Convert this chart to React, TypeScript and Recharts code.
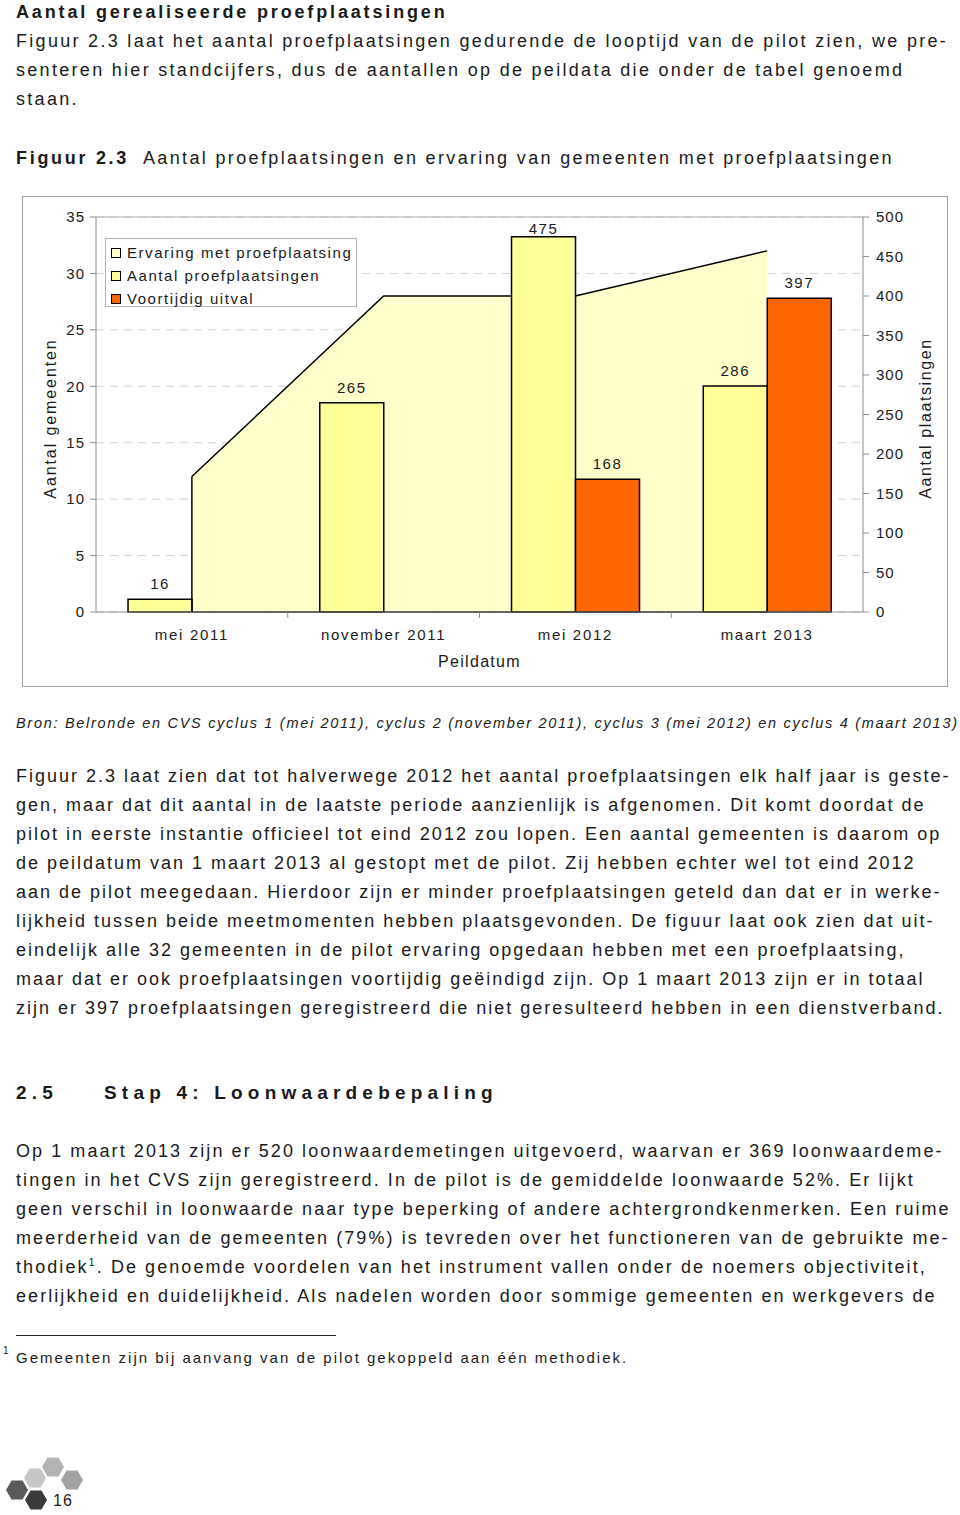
import React from 'react'
import {
  ComposedChart,
  Area,
  Bar,
  XAxis,
  YAxis,
  CartesianGrid,
  Legend,
  LabelList,
  ReferenceLine,
  Label
} from 'recharts'

// chart data
const peildata = ['mei 2011', 'november 2011', 'mei 2012', 'maart 2013']
const ervaring = [12, 28, 28, 32]
const proefplaatsingen = [16, 265, 475, 286]
const uitval = [null, null, 168, 397]

const leftTicks = [0, 5, 10, 15, 20, 25, 30, 35]
const rightTicks = [0, 50, 100, 150, 200, 250, 300, 350, 400, 450, 500]

const seriesNames = ['Ervaring met proefplaatsing', 'Aantal proefplaatsingen', 'Voortijdig uitval']
const seriesColors = ['#FFFFCC', '#FFFF99', '#FF6600']

const data = peildata.map((p, i) => ({
  peildatum: p,
  ervaring: ervaring[i],
  aantal: proefplaatsingen[i],
  uitval: uitval[i]
}))

const FONT = '"Liberation Sans", Arial, sans-serif'
const INK = '#1a1a1a'
const AXIS = '#8c8c8c'
const PLOT_TOP = 21

function TextRow({ y, x = 16, size = 18, ls = 2, bold = false, italic = false, children }: any) {
  return (
    <div
      style={{
        position: 'absolute',
        left: x,
        top: y - 15,
        height: 30,
        lineHeight: '30px',
        fontSize: size,
        letterSpacing: ls,
        fontWeight: bold ? 700 : 400,
        fontStyle: italic ? 'italic' : 'normal',
        whiteSpace: 'pre'
      }}
    >
      {children}
    </div>
  )
}

function PeilTick({ x, y, payload }: any) {
  const edge = payload.coordinate - payload.offset
  return (
    <g>
      {payload.index > 0 && <line x1={edge} x2={edge} y1={y} y2={y + 6} stroke={AXIS} />}
      <text x={x} y={y + 28} textAnchor="middle" fontSize={15} letterSpacing={1.7} fill={INK}>
        {payload.value}
      </text>
    </g>
  )
}

// value label above a bar, kept inside the plot like Excel does
function BarValue({ x, y, width, value }: any) {
  if (value == null) return null
  return (
    <text
      x={x + width / 2}
      y={Math.max(y - 10, PLOT_TOP + 17)}
      textAnchor="middle"
      fontSize={15}
      letterSpacing={1.5}
      fill={INK}
    >
      {value}
    </text>
  )
}

function SideTitle({ viewBox, text, shift, ls }: any) {
  const cx = viewBox.x + shift
  const cy = viewBox.y + viewBox.height / 2 + 4
  return (
    <text
      x={cx}
      y={cy}
      transform={`rotate(-90 ${cx} ${cy})`}
      textAnchor="middle"
      dominantBaseline="central"
      fontSize={16}
      letterSpacing={ls}
      fill={INK}
    >
      {text}
    </text>
  )
}

function LegendBox() {
  return (
    <div
      style={{
        width: 252,
        height: 69,
        border: '1px solid #b4b4b4',
        background: '#fff',
        boxSizing: 'border-box',
        padding: '2px 0 0 5px'
      }}
    >
      {seriesNames.map((n, i) => (
        <div key={n} style={{ display: 'flex', alignItems: 'center', height: 23, fontSize: 15, letterSpacing: 1.55, color: INK }}>
          <span
            style={{
              width: 8,
              height: 8,
              border: '1.5px solid #000',
              background: seriesColors[i],
              marginRight: 6,
              flex: 'none'
            }}
          />
          {n}
        </div>
      ))}
    </div>
  )
}

function Chart() {
  return (
    <ComposedChart
      width={926}
      height={491}
      data={data}
      margin={{ top: PLOT_TOP, right: 0, bottom: 0, left: 0 }}
      barCategoryGap="16.7%"
      barGap={0}
    >
      <CartesianGrid yAxisId="left" vertical={false} stroke="#d2d2d2" strokeDasharray="8 6" />
      <XAxis
        dataKey="peildatum"
        height={75}
        tickSize={0}
        tickMargin={0}
        tick={<PeilTick />}
        axisLine={{ stroke: AXIS }}
        interval={0}
      >
        <Label value="Peildatum" position="insideBottom" offset={20} fontSize={16} letterSpacing={1.3} fill={INK} />
      </XAxis>
      <YAxis
        yAxisId="left"
        width={74}
        domain={[0, 35]}
        ticks={leftTicks}
        tickSize={6}
        tickMargin={5}
        axisLine={{ stroke: AXIS }}
        tickLine={{ stroke: AXIS }}
        tick={{ fontSize: 15, fill: INK, letterSpacing: 1 }}
        label={<SideTitle text="Aantal gemeenten" shift={28} ls={1.9} />}
      />
      <YAxis
        yAxisId="right"
        orientation="right"
        width={85}
        domain={[0, 500]}
        ticks={rightTicks}
        tickSize={6}
        tickMargin={7}
        axisLine={{ stroke: AXIS }}
        tickLine={{ stroke: AXIS }}
        tick={{ fontSize: 15, fill: INK, letterSpacing: 1 }}
        label={<SideTitle text="Aantal plaatsingen" shift={62} ls={1.6} />}
      />
      <ReferenceLine yAxisId="left" y={leftTicks[leftTicks.length - 1]} stroke="#a8a8a8" />
      <Legend
        layout="vertical"
        align="center"
        verticalAlign="middle"
        wrapperStyle={{ left: 83, top: 42, width: 252, height: 69 }}
        content={<LegendBox />}
      />
      <Area
        yAxisId="left"
        type="linear"
        dataKey="ervaring"
        name={seriesNames[0]}
        fill={seriesColors[0]}
        fillOpacity={1}
        stroke="#000"
        strokeWidth={1.5}
        dot={false}
        activeDot={false}
        isAnimationActive={false}
      />
      <ReferenceLine
        yAxisId="left"
        segment={[
          { x: peildata[0], y: 0 },
          { x: peildata[0], y: ervaring[0] }
        ]}
        stroke="#000"
        strokeWidth={1.5}
      />
      <ReferenceLine
        yAxisId="left"
        segment={[
          { x: peildata[0], y: 0 },
          { x: peildata[peildata.length - 1], y: 0 }
        ]}
        stroke="#000"
        strokeWidth={1.5}
      />
      <Bar
        yAxisId="right"
        dataKey="aantal"
        name={seriesNames[1]}
        fill={seriesColors[1]}
        stroke="#000"
        strokeWidth={1.5}
        isAnimationActive={false}
      >
        <LabelList dataKey="aantal" content={<BarValue />} />
      </Bar>
      <Bar
        yAxisId="right"
        dataKey="uitval"
        name={seriesNames[2]}
        fill={seriesColors[2]}
        stroke="#000"
        strokeWidth={1.5}
        isAnimationActive={false}
      >
        <LabelList dataKey="uitval" content={<BarValue />} />
      </Bar>
    </ComposedChart>
  )
}

function Logo() {
  const hexes = [
    { cx: 53, cy: 17, fill: '#b3b3b3' },
    { cx: 72, cy: 30, fill: '#a2a2a2' },
    { cx: 35, cy: 28, fill: '#c6c6c6' },
    { cx: 17, cy: 40, fill: '#5a5a5a' },
    { cx: 36, cy: 50, fill: '#3a3a3a' }
  ]
  const pts = (cx: number, cy: number) =>
    [
      [cx - 11, cy],
      [cx - 5.5, cy - 9.5],
      [cx + 5.5, cy - 9.5],
      [cx + 11, cy],
      [cx + 5.5, cy + 9.5],
      [cx - 5.5, cy + 9.5]
    ]
      .map((p) => p.join(','))
      .join(' ')
  return (
    <svg width={100} height={64} style={{ position: 'absolute', left: 0, top: 1450 }}>
      {hexes.map((h, i) => (
        <polygon key={i} points={pts(h.cx, h.cy)} fill={h.fill} />
      ))}
    </svg>
  )
}

const p2 = [
  'Figuur 2.3 laat zien dat tot halverwege 2012 het aantal proefplaatsingen elk half jaar is geste-',
  'gen, maar dat dit aantal in de laatste periode aanzienlijk is afgenomen. Dit komt doordat de',
  'pilot in eerste instantie officieel tot eind 2012 zou lopen. Een aantal gemeenten is daarom op',
  'de peildatum van 1 maart 2013 al gestopt met de pilot. Zij hebben echter wel tot eind 2012',
  'aan de pilot meegedaan. Hierdoor zijn er minder proefplaatsingen geteld dan dat er in werke-',
  'lijkheid tussen beide meetmomenten hebben plaatsgevonden. De figuur laat ook zien dat uit-',
  'eindelijk alle 32 gemeenten in de pilot ervaring opgedaan hebben met een proefplaatsing,',
  'maar dat er ook proefplaatsingen voortijdig geëindigd zijn. Op 1 maart 2013 zijn er in totaal',
  'zijn er 397 proefplaatsingen geregistreerd die niet geresulteerd hebben in een dienstverband.'
]

const p3 = [
  'Op 1 maart 2013 zijn er 520 loonwaardemetingen uitgevoerd, waarvan er 369 loonwaardeme-',
  'tingen in het CVS zijn geregistreerd. In de pilot is de gemiddelde loonwaarde 52%. Er lijkt',
  'geen verschil in loonwaarde naar type beperking of andere achtergrondkenmerken. Een ruime',
  'meerderheid van de gemeenten (79%) is tevreden over het functioneren van de gebruikte me-',
  'thodiek',
  'eerlijkheid en duidelijkheid. Als nadelen worden door sommige gemeenten en werkgevers de'
]

export default function App() {
  return (
    <div
      style={{
        position: 'absolute',
        left: 0,
        top: 0,
        width: 960,
        height: 1515,
        background: '#fff',
        overflow: 'hidden',
        fontFamily: FONT,
        color: INK
      }}
    >
      <TextRow y={12} bold ls={2.85}>Aantal gerealiseerde proefplaatsingen</TextRow>
      <TextRow y={41} ls={2.3}>Figuur 2.3 laat het aantal proefplaatsingen gedurende de looptijd van de pilot zien, we pre-</TextRow>
      <TextRow y={70} ls={2.3}>senteren hier standcijfers, dus de aantallen op de peildata die onder de tabel genoemd</TextRow>
      <TextRow y={99} ls={2.3}>staan.</TextRow>

      <TextRow y={158} bold ls={2.7}>Figuur 2.3</TextRow>
      <TextRow y={158} x={143} ls={2.35}>Aantal proefplaatsingen en ervaring van gemeenten met proefplaatsingen</TextRow>

      <div style={{ position: 'absolute', left: 22, top: 196, width: 926, height: 491, boxSizing: 'border-box', border: '1.5px solid #a0a0a0' }} />
      <div style={{ position: 'absolute', left: 22, top: 196, width: 926, height: 491 }}>
        <Chart />
      </div>

      <TextRow y={723} size={14.5} ls={1.7} italic>
        Bron: Belronde en CVS cyclus 1 (mei 2011), cyclus 2 (november 2011), cyclus 3 (mei 2012) en cyclus 4 (maart 2013)
      </TextRow>

      {p2.map((t, i) => (
        <TextRow key={t} y={776 + i * 29} ls={2}>{t}</TextRow>
      ))}

      <TextRow y={1093} size={19} bold ls={5.2}>2.5</TextRow>
      <TextRow y={1093} x={104} size={19} bold ls={5.2}>Stap 4: Loonwaardebepaling</TextRow>

      {p3.map((t, i) => (
        <TextRow key={t} y={1151 + i * 29} ls={2.07}>
          {i === 4 ? (
            <>
              thodiek<sup style={{ fontSize: 11, lineHeight: 0 }}>1</sup>. De genoemde voordelen van het instrument vallen onder de noemers objectiviteit,
            </>
          ) : (
            t
          )}
        </TextRow>
      ))}

      <div style={{ position: 'absolute', left: 16, top: 1335, width: 320, height: 1, background: '#222' }} />
      <TextRow y={1351} x={3} size={10} ls={0}>1</TextRow>
      <TextRow y={1358} size={15} ls={2}>Gemeenten zijn bij aanvang van de pilot gekoppeld aan één methodiek.</TextRow>

      <Logo />
      <TextRow y={1501} x={53} size={16} ls={1}>16</TextRow>
    </div>
  )
}
